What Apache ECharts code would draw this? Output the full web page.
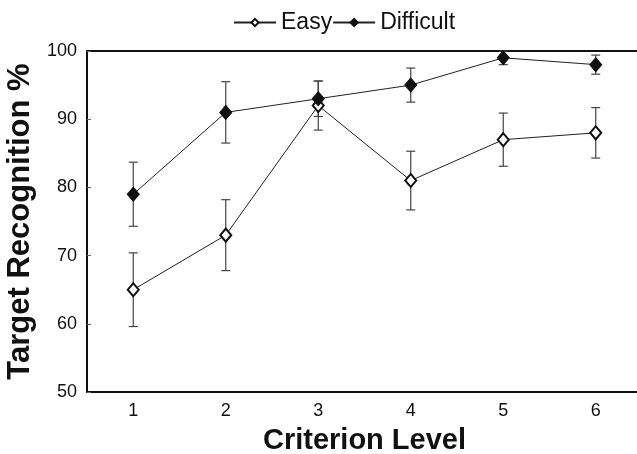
<!DOCTYPE html>
<html>
<head>
<meta charset="utf-8">
<script src="https://cdn.jsdelivr.net/npm/echarts@6/dist/echarts.min.js"></script>
<style>
  html, body { margin: 0; padding: 0; background: #fff; overflow: hidden; }
  #chart { width: 637px; height: 454px; }
</style>
</head>
<body>
<div id="chart"></div>
<script>
// values
const levels = ["1", "2", "3", "4", "5", "6"];
const easy = [65, 73, 92, 81, 87, 88];
const easyErr = [5.4, 5.2, 3.6, 4.3, 3.9, 3.7];
const difficult = [79, 91, 93, 95, 99, 98];
const difficultErr = [4.7, 4.5, 2.6, 2.5, 1.0, 1.4];
const yTicks = [50, 60, 70, 80, 90, 100];

const font = "'Liberation Sans', Arial, Helvetica, sans-serif";

function errData(vals, errs) {
  return vals.map((v, i) => [i, v - errs[i], v + errs[i]]);
}

function renderErr(params, api) {
  const x = api.value(0);
  const lo = api.coord([x, api.value(1)]);
  const hi = api.coord([x, api.value(2)]);
  const half = 4.5;
  const style = { stroke: "#444", lineWidth: 1.2 };
  return {
    type: "group",
    children: [
      { type: "line", shape: { x1: lo[0], y1: lo[1], x2: hi[0], y2: hi[1] }, style: style },
      { type: "line", shape: { x1: lo[0] - half, y1: lo[1], x2: lo[0] + half, y2: lo[1] }, style: style },
      { type: "line", shape: { x1: hi[0] - half, y1: hi[1], x2: hi[0] + half, y2: hi[1] }, style: style }
    ]
  };
}

const chart = echarts.init(document.getElementById("chart"));

chart.setOption({
  animation: false,
  backgroundColor: "#fff",
  textStyle: { fontFamily: font, color: "#111" },
  legend: {
    data: ["Easy", "Difficult"],
    top: 6,
    left: 228,
    itemWidth: 42,
    itemHeight: 9,
    itemGap: 0,
    textStyle: { fontFamily: font, fontSize: 23, color: "#111" }
  },
  grid: {
    left: 87,
    top: 51,
    width: 555,
    bottom: 62,
    outerBoundsMode: "none",
    containLabel: false
  },
  xAxis: [
    {
      type: "category",
      data: levels,
      boundaryGap: true,
      name: "Criterion Level",
      nameLocation: "middle",
      nameGap: 34,
      nameTextStyle: { fontFamily: font, fontSize: 29, fontWeight: "bold", color: "#111" },
      axisLine: { lineStyle: { color: "#111", width: 2 } },
      axisTick: { alignWithLabel: true, inside: true, length: 4, lineStyle: { color: "#666" } },
      axisLabel: { fontFamily: font, fontSize: 18, color: "#111", margin: 10 },
      splitLine: { show: false }
    },
    {
      // top frame line only
      type: "category",
      data: levels,
      position: "top",
      axisLine: { lineStyle: { color: "#111", width: 2 } },
      axisTick: { show: false },
      axisLabel: { show: false },
      splitLine: { show: false }
    }
  ],
  yAxis: {
    type: "value",
    min: yTicks[0],
    max: yTicks[yTicks.length - 1],
    interval: 10,
    name: "Target Recognition %",
    nameLocation: "middle",
    nameRotate: 90,
    nameGap: 46,
    nameTextStyle: { fontFamily: font, fontSize: 31, fontWeight: "bold", color: "#111" },
    axisLine: { show: true, lineStyle: { color: "#111", width: 2 } },
    axisTick: { show: true, inside: true, length: 4, lineStyle: { color: "#666" } },
    axisLabel: { fontFamily: font, fontSize: 18, color: "#111", margin: 10 },
    splitLine: { show: false }
  },
  series: [
    {
      name: "Easy err",
      type: "custom",
      renderItem: renderErr,
      data: errData(easy, easyErr),
      z: 1,
      silent: true
    },
    {
      name: "Difficult err",
      type: "custom",
      renderItem: renderErr,
      data: errData(difficult, difficultErr),
      z: 1,
      silent: true
    },
    {
      name: "Easy",
      type: "line",
      data: easy,
      symbol: "diamond",
      symbolSize: [11, 13],
      lineStyle: { color: "#222", width: 1 },
      itemStyle: { color: "#fff", borderColor: "#111", borderWidth: 2 },
      z: 3
    },
    {
      name: "Difficult",
      type: "line",
      data: difficult,
      symbol: "diamond",
      symbolSize: [12, 14],
      lineStyle: { color: "#222", width: 1 },
      itemStyle: { color: "#111", borderColor: "#111", borderWidth: 1 },
      z: 4
    }
  ]
});
</script>
</body>
</html>
